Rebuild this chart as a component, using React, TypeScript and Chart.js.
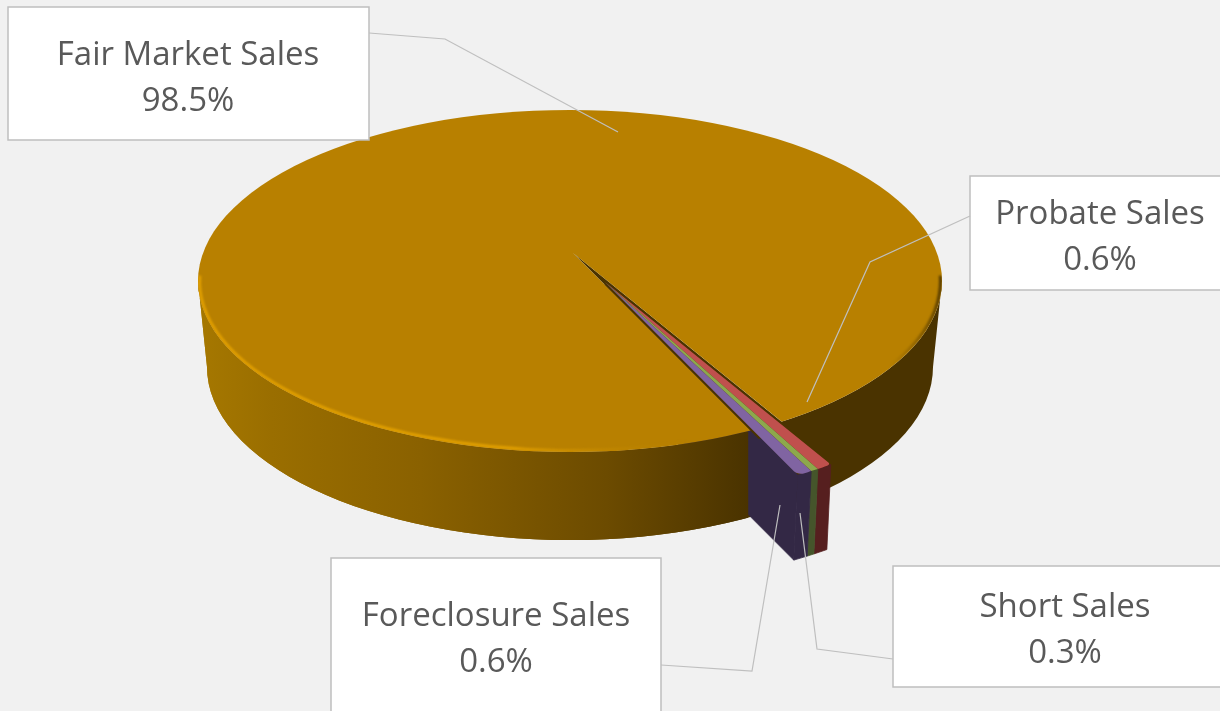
import React, { useEffect, useRef } from "react";
import { Chart, registerables } from "chart.js";

Chart.register(...registerables);

// ---- data ----
const categories = ["Fair Market Sales", "Probate Sales", "Short Sales", "Foreclosure Sales"];
const shares = [98.5, 0.6, 0.3, 0.6];
const topColors = ["#B88000", "#C0504D", "#8DA84C", "#8064A2"];
const sideColors = ["#4A3300", "#561F1F", "#45552B", "#332845"];

// ---- layout of the label callouts ----
const labelBoxes = [
  { x: 8, y: 7, w: 361, h: 133, cx: 188, base: 65, leader: [[369, 33], [445, 39], [618, 132]] },
  { x: 970, y: 176, w: 252, h: 114, cx: 1100, base: 224, leader: [[970, 216], [870, 262], [807, 402]] },
  { x: 893, y: 566, w: 329, h: 121, cx: 1065, base: 617, leader: [[893, 659], [817, 649], [800, 513]] },
  { x: 331, y: 558, w: 330, h: 160, cx: 496, base: 626, leader: [[661, 665], [752, 671], [780, 505]] },
];

// ---- projection of the flat pie onto the tilted picture plane ----
const TOP = { cx: 570, cy: 281, rx: 372, ry: 171 };
const BOTTOM = { cx: 570, cy: 367, rx: 363, ry: 173 };
const APEX = { x: 573, y: 253 };
const WEDGE_APEX = { x: 605, y: 282 };
const TILT = 0.535;
const MAIN_K = 1.1;
const WEDGE_K = 1.1;
const EXTRUDE = { dx: -4, dy: 85 };
const PIE_RADIUS = 372;
const ROTATION = 151.9;

function wallPath(ctx: CanvasRenderingContext2D) {
  ctx.beginPath();
  ctx.ellipse(TOP.cx, TOP.cy, TOP.rx, TOP.ry, 0, Math.PI, 0, true);
  ctx.lineTo(BOTTOM.cx + BOTTOM.rx, BOTTOM.cy);
  ctx.ellipse(BOTTOM.cx, BOTTOM.cy, BOTTOM.rx, BOTTOM.ry, 0, 0, Math.PI, false);
  ctx.closePath();
}

function wallFill(ctx: CanvasRenderingContext2D) {
  const g = ctx.createLinearGradient(197, 0, 942, 0);
  g.addColorStop(0, "#A67800");
  g.addColorStop(0.1, "#9A6E00");
  g.addColorStop(0.3, "#8A6100");
  g.addColorStop(0.55, "#6C4B00");
  g.addColorStop(0.74, "#4A3300");
  g.addColorStop(1, "#4A3300");
  ctx.fillStyle = g;
  wallPath(ctx);
  ctx.fill();
}

function poly(ctx: CanvasRenderingContext2D, pts: number[][], color: string, seal = false) {
  ctx.beginPath();
  pts.forEach((p, i) => (i ? ctx.lineTo(p[0], p[1]) : ctx.moveTo(p[0], p[1])));
  ctx.closePath();
  ctx.fillStyle = color;
  ctx.fill();
  if (seal) {
    ctx.strokeStyle = color;
    ctx.lineWidth = 0.8;
    ctx.stroke();
  }
}

function withProjection(
  ctx: CanvasRenderingContext2D,
  chart: any,
  origin: { x: number; y: number },
  k: number,
  fn: () => void
) {
  const { left, right, top, bottom } = chart.chartArea;
  ctx.save();
  ctx.translate(origin.x, origin.y);
  ctx.scale(k, k * TILT);
  ctx.translate(-(left + right) / 2, -(top + bottom) / 2);
  fn();
  ctx.restore();
}

function wedgePoint(arc: any, angle: number) {
  return [
    WEDGE_APEX.x + WEDGE_K * Math.cos(angle) * arc.outerRadius,
    WEDGE_APEX.y + WEDGE_K * TILT * Math.sin(angle) * arc.outerRadius,
  ];
}

const down = (p: number[]) => [p[0] + EXTRUDE.dx, p[1] + EXTRUDE.dy];

const pie3d = {
  id: "pie3d",
  beforeDatasetDraw(chart: any) {
    const ctx: CanvasRenderingContext2D = chart.ctx;
    const arcs = chart.getDatasetMeta(0).data;
    const main = arcs[0];

    // gap left in the main slice
    const gapStart = main.endAngle;
    const gapEnd = main.startAngle;
    const rimAt = (a: number, k = 1) => [
      APEX.x + k * main.outerRadius * Math.cos(a),
      APEX.y + k * main.outerRadius * TILT * Math.sin(a),
    ];

    // main slice wall, whole
    wallFill(ctx);

    // walls of the pulled-out slices
    const last = arcs[arcs.length - 1];
    const tip = [WEDGE_APEX.x, WEDGE_APEX.y];
    const corner = wedgePoint(last, last.endAngle);
    poly(ctx, [tip, corner, down(corner), down(tip)], sideColors[arcs.length - 1], true);
    for (let i = 1; i < arcs.length; i++) {
      const a = arcs[i];
      const p1 = wedgePoint(a, a.startAngle);
      const p2 = wedgePoint(a, a.endAngle);
      poly(ctx, [p1, p2, down(p2), down(p1)], sideColors[i], true);
    }

    // main slice wall again, in front of them, left of the gap
    ctx.save();
    ctx.beginPath();
    ctx.rect(0, 0, rimAt(gapEnd)[0], 711);
    ctx.clip();
    wallFill(ctx);
    ctx.restore();

    // dark inner faces seen through the gap
    poly(ctx, [[APEX.x, APEX.y], rimAt(gapStart, 1.06), rimAt(gapEnd, 1.06)], sideColors[0]);

    // main slice top
    ctx.save();
    ctx.beginPath();
    ctx.ellipse(TOP.cx, TOP.cy, TOP.rx, TOP.ry, 0, 0, Math.PI * 2);
    ctx.clip();
    withProjection(ctx, chart, APEX, MAIN_K, () => main.draw(ctx));

    // bevel along the front rim, stays inside the top face
    const rim = ctx.createLinearGradient(197, 0, 942, 0);
    rim.addColorStop(0, "rgba(226,160,0,1)");
    rim.addColorStop(0.42, "rgba(226,160,0,1)");
    rim.addColorStop(0.66, "rgba(184,128,0,0)");
    rim.addColorStop(0.93, "rgba(120,82,0,0)");
    rim.addColorStop(1, "rgba(80,55,0,1)");
    ctx.strokeStyle = rim;
    ctx.lineWidth = 3;
    ctx.filter = "blur(1px)";
    ctx.beginPath();
    ctx.ellipse(TOP.cx, TOP.cy, TOP.rx - 1.5, TOP.ry - 1.5, 0, Math.PI * 1.01, -Math.PI * 0.01, true);
    ctx.stroke();
    ctx.filter = "none";
    ctx.restore();

    // tops of the pulled-out slices
    withProjection(ctx, chart, WEDGE_APEX, WEDGE_K, () => {
      for (let i = 1; i < arcs.length; i++) arcs[i].draw(ctx);
    });

    return false;
  },
  afterDraw(chart: any) {
    const ctx: CanvasRenderingContext2D = chart.ctx;
    ctx.save();
    labelBoxes.forEach((b, i) => {
      ctx.fillStyle = "#FFFFFF";
      ctx.strokeStyle = "#BFBFBF";
      ctx.lineWidth = 1.5;
      ctx.beginPath();
      ctx.rect(b.x, b.y, b.w, b.h);
      ctx.fill();
      ctx.stroke();
      ctx.fillStyle = "#595959";
      ctx.font = '33px "Open Sans"';
      ctx.textAlign = "center";
      ctx.textBaseline = "alphabetic";
      ctx.fillText(categories[i], b.cx, b.base);
      ctx.fillText(`${shares[i]}%`, b.cx, b.base + 46);
    });
    labelBoxes.forEach((b) => {
      ctx.strokeStyle = "#BFBFBF";
      ctx.lineWidth = 1.2;
      ctx.beginPath();
      b.leader.forEach((p, i) => (i ? ctx.lineTo(p[0], p[1]) : ctx.moveTo(p[0], p[1])));
      ctx.stroke();
    });
    ctx.restore();
  },
};

export default function App() {
  const ref = useRef<HTMLCanvasElement | null>(null);

  useEffect(() => {
    if (!ref.current) return;
    document.body.style.margin = "0";
    document.body.style.background = "#F1F1F1";
    const chart = new Chart(ref.current, {
      type: "pie",
      data: {
        labels: categories,
        datasets: [
          {
            data: shares,
            backgroundColor: topColors,
            borderWidth: 0,
            borderRadius: [
              0,
              { outerStart: 4, outerEnd: 0, innerStart: 0, innerEnd: 0 },
              0,
              { outerStart: 0, outerEnd: 7, innerStart: 0, innerEnd: 0 },
            ],
            radius: PIE_RADIUS,
            clip: false,
          } as any,
        ],
      },
      options: {
        animation: false,
        responsive: false,
        rotation: ROTATION,
        events: [],
        layout: { padding: 0 },
        plugins: { legend: { display: false }, tooltip: { enabled: false }, title: { display: false } },
      },
      plugins: [pie3d],
    });
    return () => chart.destroy();
  }, []);

  return (
    <div style={{ position: "absolute", left: 0, top: 0, width: 1220, height: 711, overflow: "hidden", background: "#F1F1F1" }}>
      <canvas ref={ref} width={1220} height={711} style={{ display: "block" }} />
    </div>
  );
}
